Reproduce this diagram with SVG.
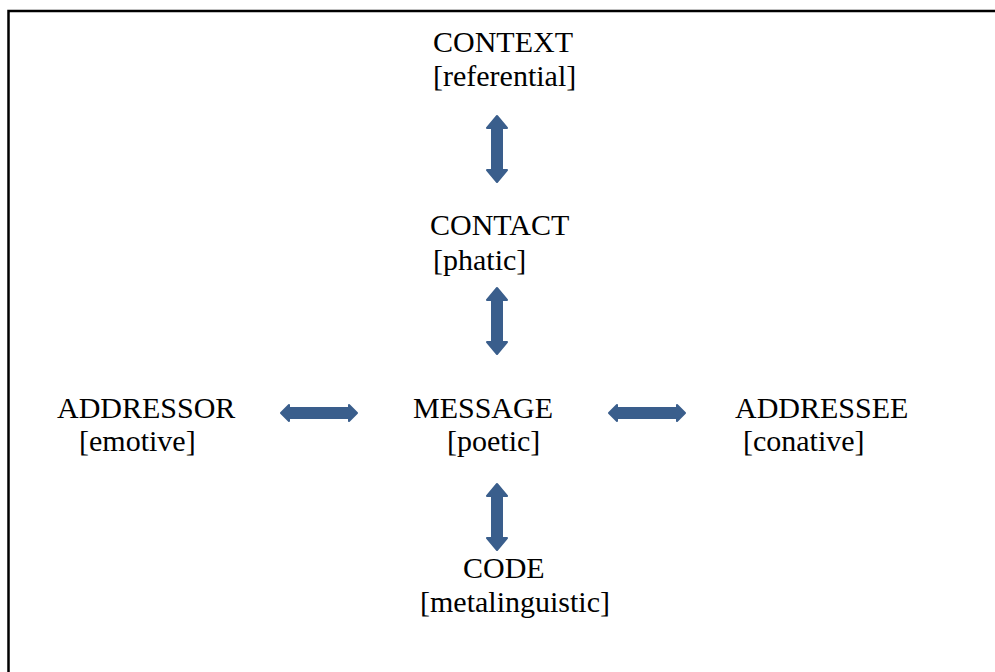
<svg xmlns="http://www.w3.org/2000/svg" width="995" height="672" viewBox="0 0 995 672">
<style>
.t{font-family:"Liberation Serif","Times New Roman",serif;font-size:30px;fill:#000}
.ar{fill:#3a5e8c;stroke:#3a5e8c;stroke-width:2;stroke-linejoin:round}
</style>
<defs>
<polygon id="va" class="ar" points="0,-33 10,-21 5,-21 5,21 10,21 0,33 -10,21 -5,21 -5,-21 -10,-21"/>
<polygon id="ha" class="ar" points="-38,0 -30,-8 -30,-5 30,-5 30,-8 38,0 30,8 30,5 -30,5 -30,8"/>
</defs>
<rect x="8.5" y="11" width="1000" height="700" fill="#fff" stroke="#000" stroke-width="2.5"/>
<g id="connectors">
<use href="#va" x="497" y="149"/>
<use href="#va" x="497" y="321"/>
<use href="#va" x="497" y="517"/>
<use href="#ha" x="319" y="413"/>
<use href="#ha" x="647" y="413"/>
</g>
<g id="context"><text class="t" x="433" y="52">CONTEXT</text><text class="t" x="433" y="86">[referential]</text></g>
<g id="contact"><text class="t" x="430" y="235">CONTACT</text><text class="t" x="433" y="270">[phatic]</text></g>
<g id="addressor"><text class="t" x="57" y="418">ADDRESSOR</text><text class="t" x="79" y="451">[emotive]</text></g>
<g id="message"><text class="t" x="413" y="418">MESSAGE</text><text class="t" x="447" y="451">[poetic]</text></g>
<g id="addressee"><text class="t" x="735" y="418">ADDRESSEE</text><text class="t" x="743" y="451">[conative]</text></g>
<g id="code"><text class="t" x="463" y="578">CODE</text><text class="t" x="420" y="612">[metalinguistic]</text></g>
</svg>
